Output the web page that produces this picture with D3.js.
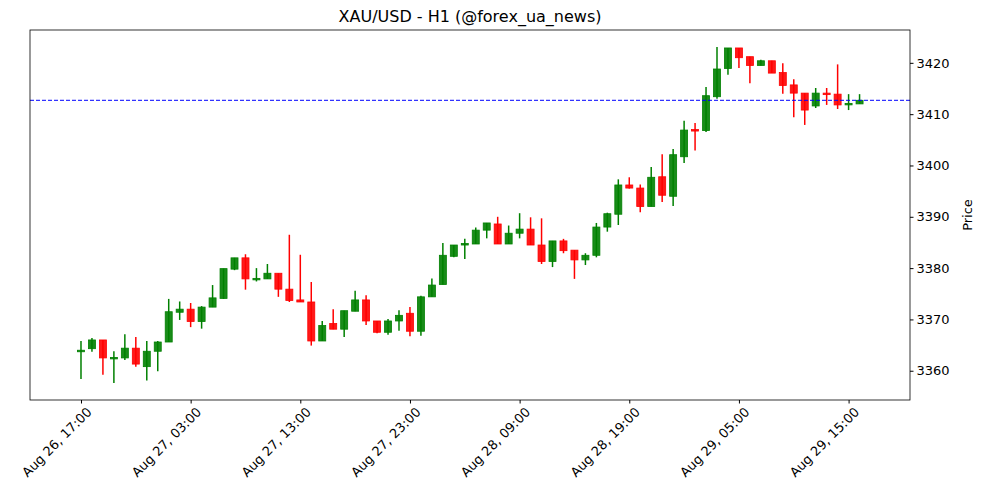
<!DOCTYPE html>
<html><head><meta charset="utf-8">
<script src="https://cdn.jsdelivr.net/npm/d3@7"></script>
<style>
body{margin:0;background:#fff;font-family:"DejaVu Sans",sans-serif}
text{fill:#000}
</style></head><body>
<svg id="c" width="1000" height="500"></svg>
<script>
// hourly OHLC, Aug 26 17:00 -> Aug 29 16:00
const opens  = [3363.7,3364.3,3366.0,3362.4,3362.5,3364.4,3360.8,3363.8,3365.6,3371.4,3372.0,3369.6,3372.4,3374.1,3379.8,3382.0,3377.8,3377.9,3379.0,3375.9,
  3373.8,3373.4,3365.8,3369.2,3368.1,3371.6,3373.8,3369.7,3367.5,3369.7,3371.2,3367.7,3374.4,3376.8,3382.3,3384.5,3384.7,3387.4,3388.6,3384.7,
  3386.8,3387.6,3384.5,3381.3,3385.3,3383.5,3381.6,3382.5,3388.0,3390.5,3396.2,3395.6,3392.0,3397.8,3394.0,3401.7,3407.0,3406.8,3413.4,3418.9,
  3422.9,3421.2,3419.5,3420.4,3418.1,3415.7,3414.1,3411.6,3414.1,3413.9,3411.9,3412.0];
const highs  = [3365.8,3366.4,3366.0,3363.8,3367.1,3366.6,3365.8,3365.8,3374.0,3373.5,3373.2,3372.6,3376.7,3379.9,3382.0,3382.7,3380.0,3380.8,3379.0,3386.5,
  3382.6,3377.3,3369.7,3372.0,3371.7,3375.6,3374.7,3369.7,3370.1,3371.8,3372.4,3374.6,3378.0,3384.9,3384.5,3385.7,3387.9,3388.8,3390.0,3388.3,
  3390.7,3389.9,3389.7,3385.3,3385.7,3383.5,3382.9,3388.8,3390.8,3397.3,3397.7,3396.3,3399.7,3402.2,3403.2,3408.7,3408.3,3415.3,3423.1,3422.9,
  3422.9,3421.2,3420.6,3420.4,3419.9,3416.8,3414.1,3415.1,3415.1,3419.7,3413.9,3413.9];
const lows   = [3358.4,3363.7,3359.2,3357.6,3362.1,3360.8,3358.1,3359.9,3365.6,3369.9,3368.5,3368.2,3372.4,3374.0,3379.6,3375.8,3377.4,3377.9,3374.4,3373.4,
  3373.4,3364.9,3365.8,3368.1,3366.6,3371.6,3368.9,3367.3,3367.0,3367.8,3366.7,3366.8,3374.4,3376.8,3382.1,3381.8,3384.7,3385.8,3384.7,3384.7,
  3385.8,3384.5,3380.8,3380.2,3382.9,3377.9,3380.6,3382.1,3387.1,3388.4,3395.5,3390.9,3392.0,3392.9,3392.1,3400.5,3402.9,3406.5,3413.0,3417.7,
  3419.0,3416.0,3419.5,3418.0,3414.0,3409.4,3407.9,3411.2,3411.8,3411.0,3410.8,3412.0];
const closes = [3364.0,3366.0,3362.5,3362.6,3364.4,3361.3,3363.8,3365.6,3371.5,3372.0,3369.6,3372.4,3374.2,3379.9,3382.0,3377.9,3378.0,3379.0,3375.9,3373.7,
  3373.4,3365.8,3368.8,3368.1,3371.7,3373.8,3369.7,3367.5,3369.7,3370.8,3367.7,3374.4,3376.7,3382.5,3384.5,3384.8,3387.4,3388.8,3384.7,3386.8,
  3387.6,3384.5,3381.3,3385.3,3383.4,3381.6,3382.5,3388.0,3390.6,3396.2,3395.6,3392.0,3397.7,3394.2,3402.1,3406.9,3406.8,3413.6,3418.8,3422.9,
  3421.0,3419.5,3420.4,3418.0,3415.6,3414.1,3410.8,3414.1,3413.9,3411.8,3412.1,3412.7];
const tickIdx = [0,10,20,30,40,50,60,70];
const tickLabels = ["Aug 26, 17:00","Aug 27, 03:00","Aug 27, 13:00","Aug 27, 23:00","Aug 28, 09:00","Aug 28, 19:00","Aug 29, 05:00","Aug 29, 15:00"];
const yTicks = [3360,3370,3380,3390,3400,3410,3420];
const lastPrice = closes[closes.length-1];

const svg = d3.select("#c");
const L=30,R=910,T=30,B=400;
const x = d3.scaleLinear().domain([-4.65,75.6]).range([L,R]);
const y = d3.scaleLinear().domain([3354.3,3426.4]).range([B,T]);

svg.append("text").attr("x",(L+R)/2).attr("y",22).attr("text-anchor","middle")
  .style("font-size","16px").text("XAU/USD - H1 (@forex_ua_news)");

const data = opens.map((o,i)=>({i,o,h:highs[i],l:lows[i],c:closes[i]}));
const col = d=>d.c>=d.o?"green":"red";
const bw = 7;
const g = svg.append("g");
g.selectAll("line.w").data(data).join("line")
  .attr("x1",d=>x(d.i)).attr("x2",d=>x(d.i)).attr("y1",d=>y(d.h)).attr("y2",d=>y(d.l))
  .attr("stroke",col).attr("stroke-width",1.5);
g.selectAll("rect").data(data).join("rect")
  .attr("x",d=>x(d.i)-bw/2).attr("width",bw)
  .attr("y",d=>y(Math.max(d.o,d.c)))
  .attr("height",d=>Math.max(1.5,Math.abs(y(d.o)-y(d.c))))
  .attr("fill",col).attr("fill-opacity",0.9).attr("stroke",col).attr("stroke-width",0.8);

svg.append("line").attr("x1",L).attr("x2",R).attr("y1",y(lastPrice)).attr("y2",y(lastPrice))
  .attr("stroke","blue").attr("stroke-width",1).attr("stroke-dasharray","4,2");

svg.append("rect").attr("x",L).attr("y",T).attr("width",R-L).attr("height",B-T)
  .attr("fill","none").attr("stroke","#000").attr("stroke-width",0.8);

const xa = svg.append("g").attr("transform",`translate(0,${B})`)
  .call(d3.axisBottom(x).tickValues(tickIdx).tickFormat((d,i)=>tickLabels[i]).tickSize(3.5));
xa.select(".domain").remove();
xa.selectAll("text").style("font-size","13px").style("font-family","DejaVu Sans")
  .attr("text-anchor","end").attr("dx","-0.1em").attr("dy","0.8em")
  .attr("transform","rotate(-45)");

const ya = svg.append("g").attr("transform",`translate(${R},0)`)
  .call(d3.axisRight(y).tickValues(yTicks).tickSize(3.5).tickFormat(d3.format("d")));
ya.select(".domain").remove();
ya.selectAll("text").style("font-size","13px").style("font-family","DejaVu Sans");

svg.append("text").attr("transform",`translate(972,${(T+B)/2}) rotate(-90)`)
  .attr("text-anchor","middle").style("font-size","13px").text("Price");
</script></body></html>
